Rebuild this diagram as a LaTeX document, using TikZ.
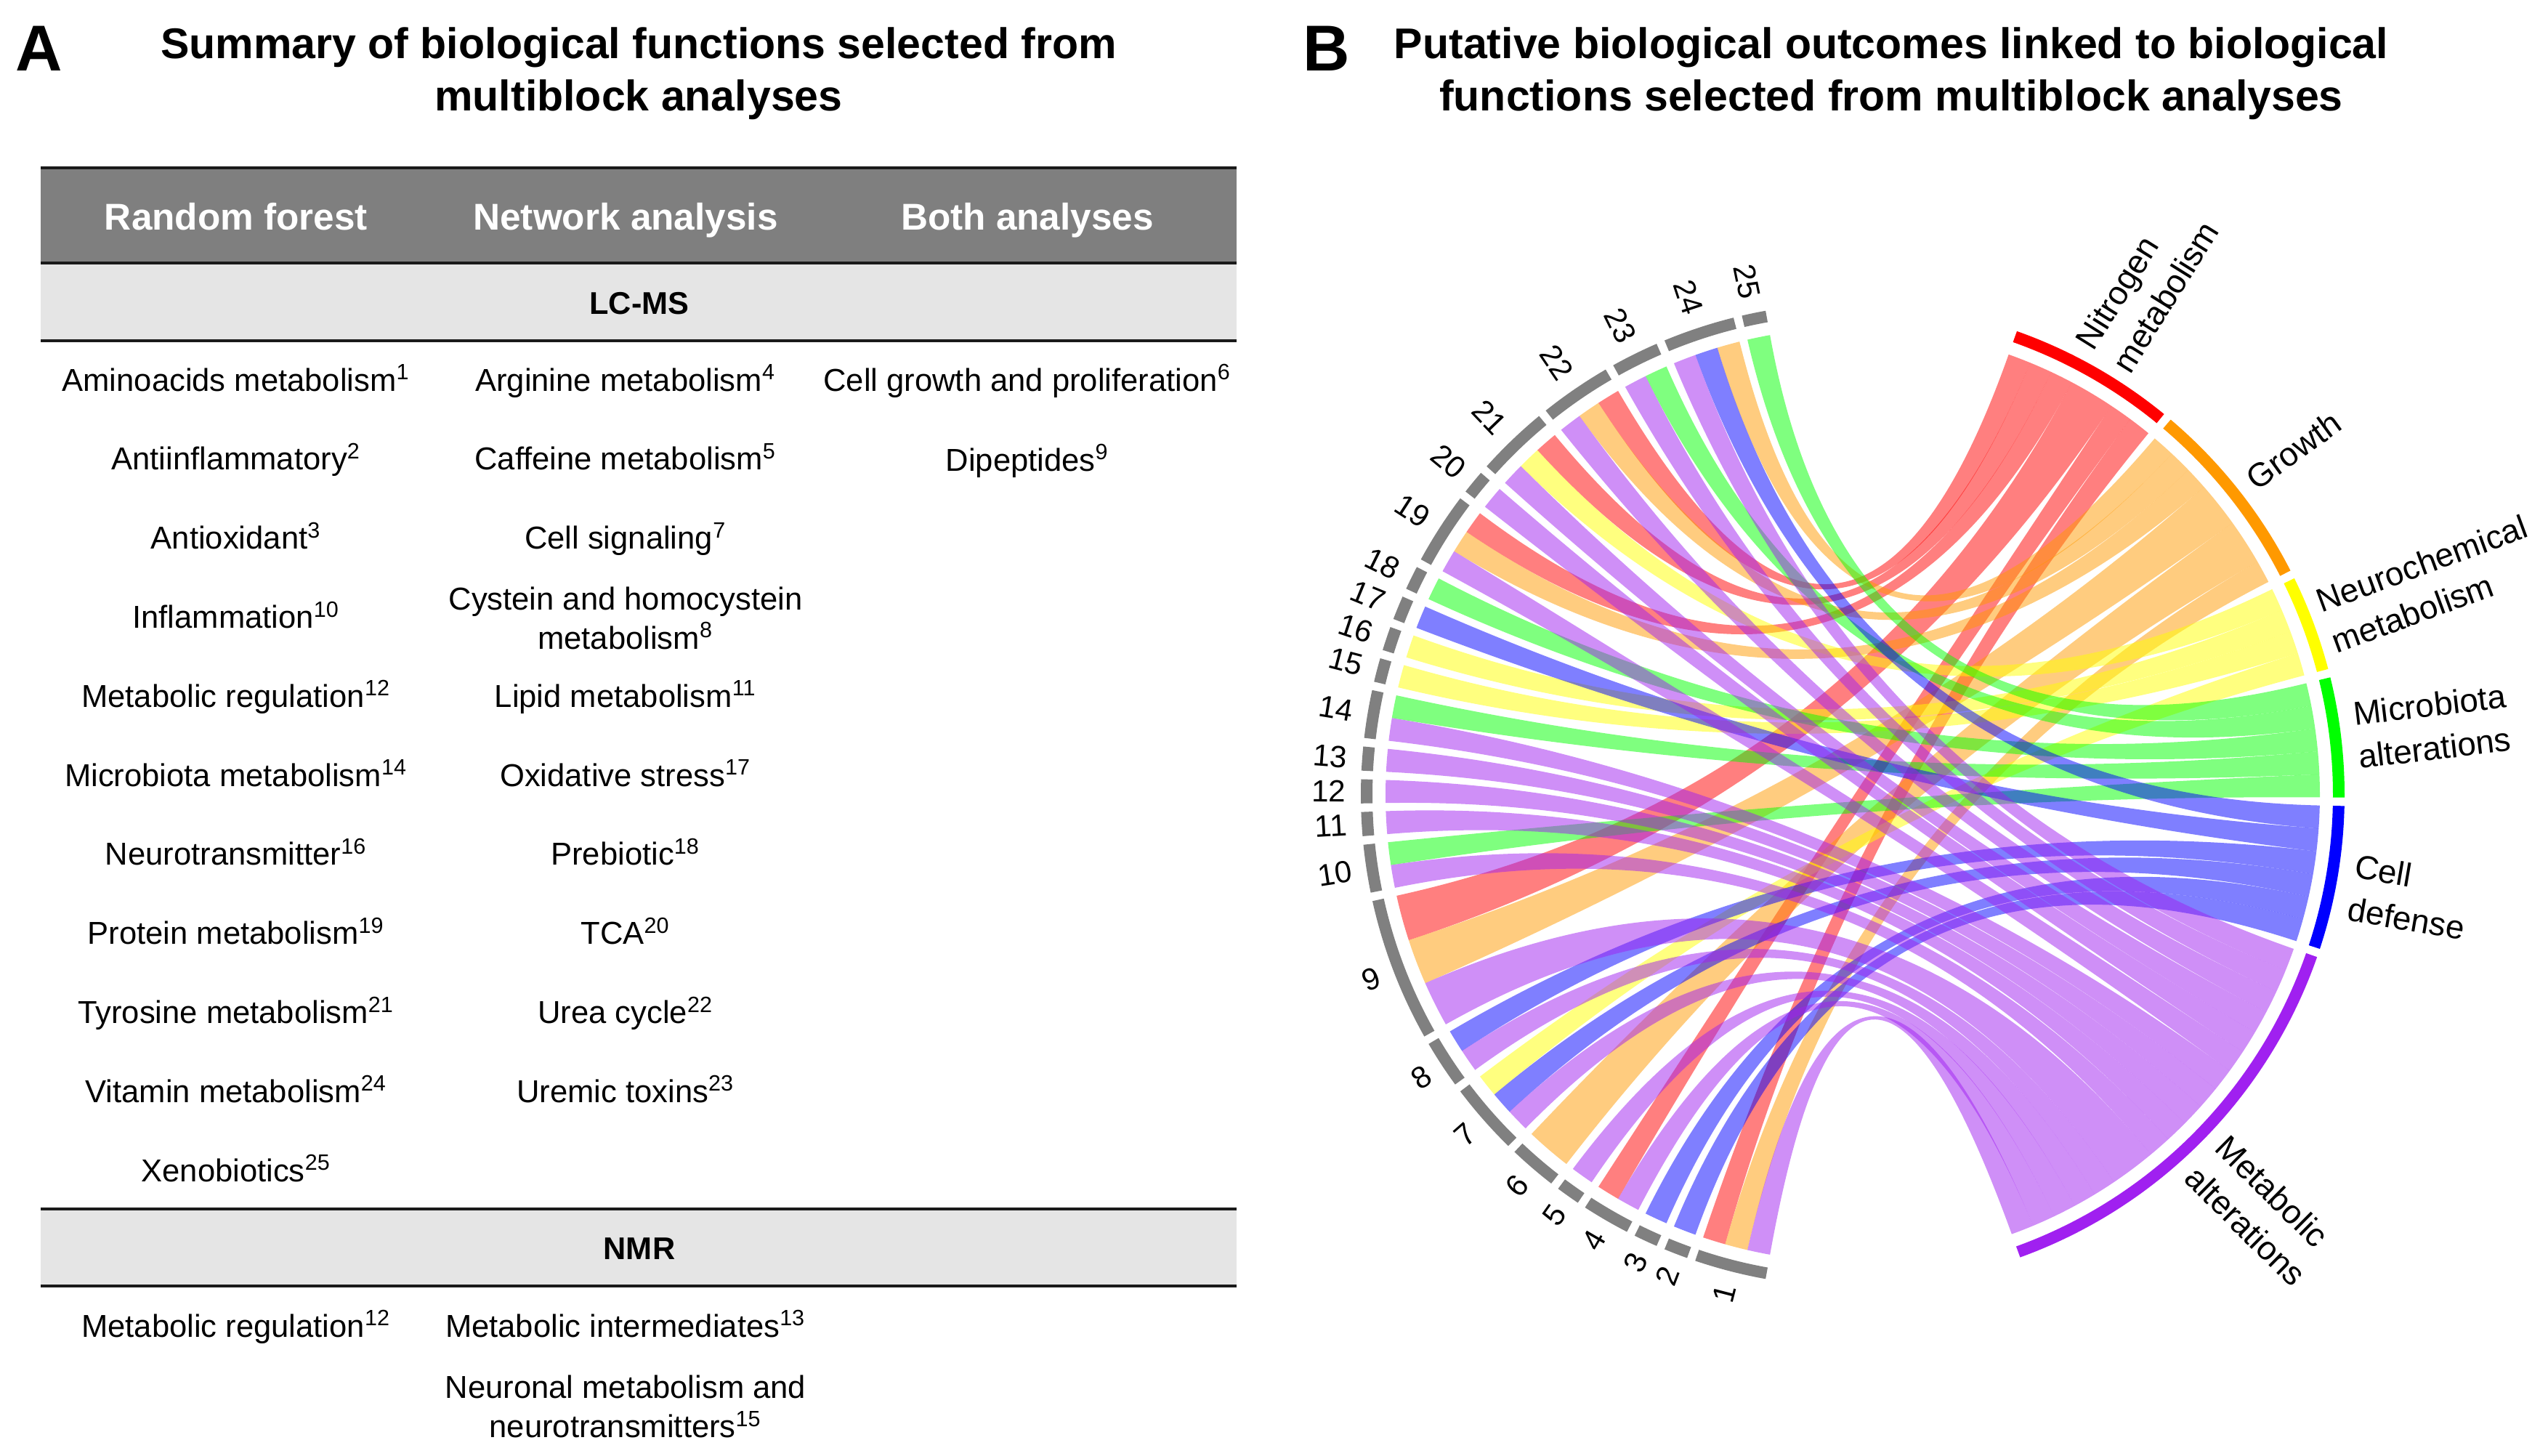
\documentclass[tikz,border=0pt]{standalone}
\usepackage{fontspec}
\setmainfont{Liberation Sans}
\definecolor{redbar}{HTML}{FF0000}
\definecolor{orangebar}{HTML}{FF9900}
\definecolor{yellowbar}{HTML}{FFFF00}
\definecolor{greenbar}{HTML}{00FF00}
\definecolor{bluebar}{HTML}{0000FF}
\definecolor{purplebar}{HTML}{A020F0}
\definecolor{headgray}{HTML}{7F7F7F}
\definecolor{subgray}{HTML}{E5E5E5}
\definecolor{seggray}{HTML}{808080}
\definecolor{ruleblack}{HTML}{1A1A1A}
\newcommand{\bandset}[3]{%
  \foreach \idx/\n/\slot/\wid in {#3}{%
    \pgfmathsetmacro\aone{100.2+\n*2.825+\idx}
    \pgfmathsetmacro\atwo{\aone+\wid*2.825}
    \pgfmathsetmacro\bone{#2-\slot*2.825}
    \pgfmathsetmacro\btwo{#2-(\slot+\wid)*2.825}
    \fill[#1,opacity=.5] (\aone:6.43) arc[start angle=\aone,end angle=\atwo,radius=6.43]
      .. controls (\atwo:2.143) and (\btwo:2.143) .. (\btwo:6.43)
      arc[start angle=\btwo,end angle=\bone,radius=6.43]
      .. controls (\bone:2.143) and (\aone:2.143) .. (\aone:6.43) -- cycle;
  }}
\begin{document}
\begin{tikzpicture}[
    paneltitle/.style={inner sep=0pt,align=center,font=\fontsize{16.8}{20.4}\selectfont\bfseries},
    panelletter/.style={inner sep=0pt,anchor=base,font=\fontsize{25.4}{28}\selectfont\bfseries},
    colhead/.style={inner sep=0pt,anchor=base,text=white,font=\fontsize{14.6}{17}\selectfont\bfseries},
    subhead/.style={inner sep=0pt,anchor=base,font=\fontsize{12.3}{15}\selectfont\bfseries},
    celltext/.style={inner sep=0pt,anchor=base,font=\fontsize{12.4}{14.8}\selectfont},
    celltwo/.style={inner sep=0pt,align=center,font=\fontsize{12.4}{15.2}\selectfont},
    rulerow/.style={ruleblack,line width=.04cm},
    seglabel/.style={inner sep=0pt,anchor=east,font=\fontsize{12}{14}\selectfont},
    outcome/.style={inner sep=0pt,align=left,font=\fontsize{13}{17}\selectfont}]
  \useasboundingbox (0,0) rectangle (35.07,-20.03);
  \node[panelletter] (letterA) at (0.535,-0.97) {A};
  \node[panelletter] (letterB) at (18.26,-0.97) {B};
  \node[paneltitle] (titleA) at (8.79,-1.01) {Summary of biological functions selected from\\multiblock analyses};
  \node[paneltitle] (titleB) at (26.03,-1.01) {Putative biological outcomes linked to biological\\functions selected from multiblock analyses};
  \fill[headgray] (0.56,-2.31) rectangle (17.02,-3.62);
  \fill[subgray] (0.56,-3.62) rectangle (17.02,-4.69);
  \fill[subgray] (0.56,-16.64) rectangle (17.02,-17.70);
  \foreach \yy in {-2.31,-3.62,-4.69,-16.64,-17.70}
    \draw[rulerow] (0.56,\yy) -- (17.02,\yy);
  \node[colhead] (headRF) at (3.25,-3.16) {Random forest};
  \node[colhead] (headNA) at (8.61,-3.16) {Network analysis};
  \node[colhead] (headBA) at (14.14,-3.16) {Both analyses};
  \node[subhead] (lcms) at (8.80,-4.32) {LC-MS};
  \node[subhead] (nmr) at (8.80,-17.33) {NMR};
  \foreach \txt/\cite [count=\i from 0] in {Aminoacids metabolism/1,Antiinflammatory/2,Antioxidant/3,Inflammation/10,Metabolic regulation/12,Microbiota metabolism/14,Neurotransmitter/16,Protein metabolism/19,Tyrosine metabolism/21,Vitamin metabolism/24,Xenobiotics/25}
    \node[celltext] (rf\i) at (3.25,{-5.38-1.088*\i}) {\txt\textsuperscript{\cite}};
  \foreach \txt/\cite/\row in {Arginine metabolism/4/0,Caffeine metabolism/5/1,Cell signaling/7/2,Lipid metabolism/11/4,Oxidative stress/17/5,Prebiotic/18/6,TCA/20/7,Urea cycle/22/8,Uremic toxins/23/9}
    \node[celltext] (na\row) at (8.61,{-5.38-1.088*\row}) {\txt\textsuperscript{\cite}};
  \node[celltwo] (na3) at (8.61,-8.51) {Cystein and homocystein\\metabolism\textsuperscript{8}};
  \node[celltext] (ba0) at (14.14,-5.38) {Cell growth and proliferation\textsuperscript{6}};
  \node[celltext] (ba1) at (14.14,-6.48) {Dipeptides\textsuperscript{9}};
  \node[celltext] (nmrRF) at (3.25,-18.40) {Metabolic regulation\textsuperscript{12}};
  \node[celltext] (nmrNA) at (8.61,-18.40) {Metabolic intermediates\textsuperscript{13}};
  \node[celltwo] (nmrNB) at (8.61,-19.36) {Neuronal metabolism and\\neurotransmitters\textsuperscript{15}};
  \begin{scope}[shift={(25.50,-10.94)}]
    \bandset{redbar}{70.5}{3/6/0/1,4/9/1/1,6/13/2/1,16/27/3/2,21/41/5/1,24/45/6/1}
    \bandset{orangebar}{49.725}{1/1/0/1,3/7/1/1,6/14/2/1,16/29/3/2,19/38/5/2,24/46/7/1}
    \bandset{yellowbar}{26.125}{4/10/0/1,9/18/1/1,10/19/2/1,18/35/3/1}
    \bandset{greenbar}{13.825}{0/0/0/1,2/4/1/1,7/16/2/1,11/20/3/1,15/25/4/1}
    \bandset{bluebar}{-1.3}{1/2/0/1,8/17/1/1,17/33/2/1,18/36/3/1,22/43/4/1,23/44/5/1}
    \bandset{purplebar}{-19.25}{1/3/0/1,2/5/1/1,3/8/2/1,4/11/3/1,5/12/4/1,6/15/5/1,11/21/6/1,12/22/7/1,13/23/8/1,14/24/9/1,15/26/10/1,16/31/11/2,17/34/13/1,18/37/14/1,20/40/15/1,21/42/16/1,24/47/17/1}
    \foreach \seg/\idx/\cum/\wid in {25/0/0/1,24/1/1/3,23/2/4/2,22/3/6/3,21/4/9/3,20/5/12/1,19/6/13/3,18/7/16/1,17/8/17/1,16/9/18/1,15/10/19/1,14/11/20/2,13/12/22/1,12/13/23/1,11/14/24/1,10/15/25/2,9/16/27/6,8/17/33/2,7/18/35/3,6/19/38/2,5/20/40/1,4/21/41/2,3/22/43/1,2/23/44/1,1/24/45/3}{
      \pgfmathsetmacro\aone{100.2+\cum*2.825+\idx}
      \pgfmathsetmacro\atwo{\aone+\wid*2.825}
      \pgfmathsetmacro\amid{(\aone+\atwo)/2}
      \draw[seggray,line width=.16cm] (\aone:6.69) arc[start angle=\aone,end angle=\atwo,radius=6.69];
      \node[seglabel,rotate=\amid-180] (seg\seg) at (\amid:6.97) {\seg};
    }
    \foreach \col/\aone/\atwo in {redbar/70.5/50.725,orangebar/49.725/27.125,yellowbar/26.125/14.825,greenbar/13.825/-0.3,bluebar/-1.3/-18.25,purplebar/-19.25/-70.1}
      \draw[\col,line width=.16cm] (\aone:6.69) arc[start angle=\aone,end angle=\atwo,radius=6.69];
    \node[outcome,rotate=58] (nitrogen) at (60:8.10) {Nitrogen\\metabolism};
    \node[outcome,rotate=36] (growth) at (38:7.70) {Growth};
    \node[outcome,rotate=20.2] (neuro) at (20.1:8.45) {Neurochemical\\metabolism};
    \node[outcome,rotate=6.7] (microbiota) at (6.75:8.03) {Microbiota\\alterations};
    \node[outcome,rotate=-9.7] (celldef) at (-10.4:7.80) {Cell\\defense};
    \node[outcome,rotate=-44.7] (metabolic) at (-45.5:8.02) {Metabolic\\alterations};
  \end{scope}
\end{tikzpicture}
\end{document}
